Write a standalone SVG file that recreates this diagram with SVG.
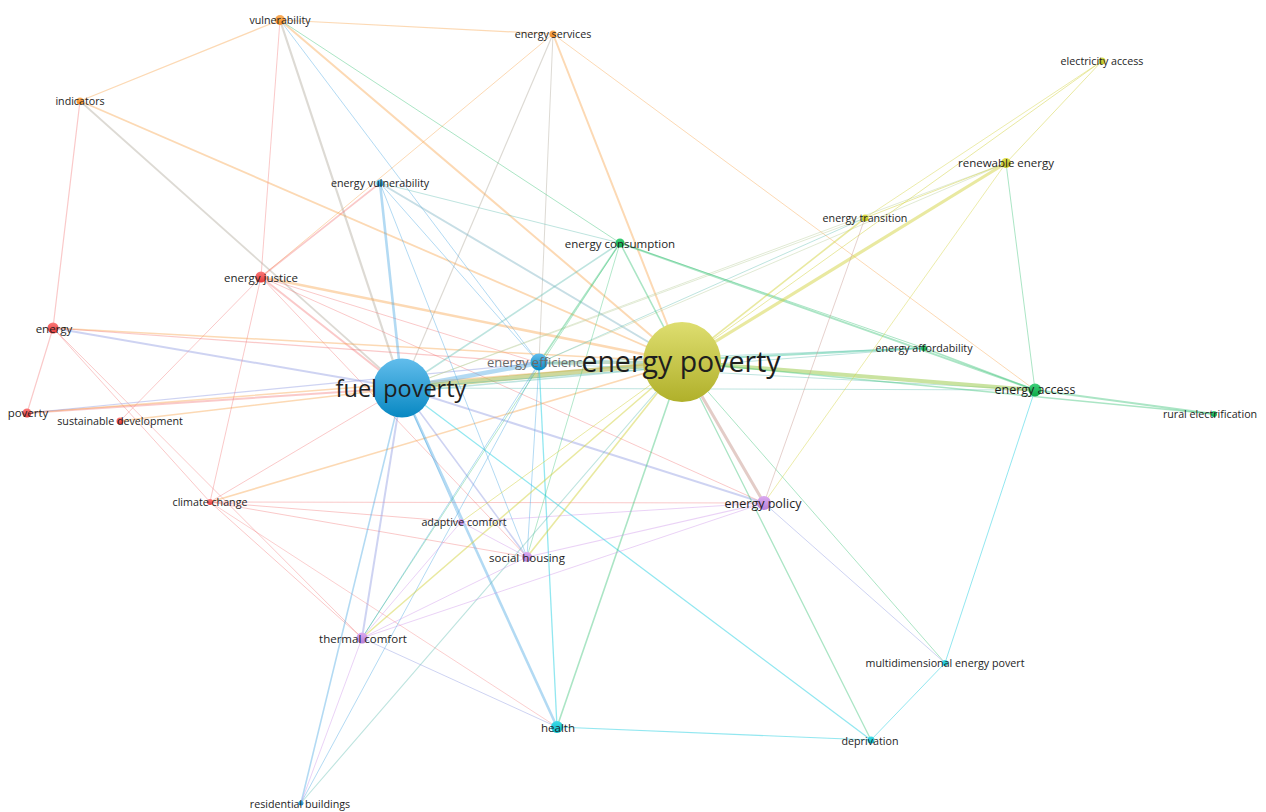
<svg xmlns="http://www.w3.org/2000/svg" width="1266" height="812" viewBox="0 0 1266 812">
<defs>
<linearGradient id="gBlue" x1="0" y1="0" x2="0" y2="1"><stop offset="0" stop-color="#62bdec"/><stop offset="1" stop-color="#0888c2"/></linearGradient>
<linearGradient id="gYel" x1="0" y1="0" x2="0" y2="1"><stop offset="0" stop-color="#dede70"/><stop offset="1" stop-color="#b0b02a"/></linearGradient>
<linearGradient id="gRed" x1="0" y1="0" x2="0" y2="1"><stop offset="0" stop-color="#fb7a7a"/><stop offset="1" stop-color="#e23838"/></linearGradient>
<linearGradient id="gOr" x1="0" y1="0" x2="0" y2="1"><stop offset="0" stop-color="#fbb060"/><stop offset="1" stop-color="#ee8a20"/></linearGradient>
<linearGradient id="gGr" x1="0" y1="0" x2="0" y2="1"><stop offset="0" stop-color="#3fd07a"/><stop offset="1" stop-color="#0aa848"/></linearGradient>
<linearGradient id="gPu" x1="0" y1="0" x2="0" y2="1"><stop offset="0" stop-color="#dcaaf0"/><stop offset="1" stop-color="#b680d8"/></linearGradient>
<linearGradient id="gCy" x1="0" y1="0" x2="0" y2="1"><stop offset="0" stop-color="#40dce8"/><stop offset="1" stop-color="#08b8c8"/></linearGradient>
<linearGradient id="gYs" x1="0" y1="0" x2="0" y2="1"><stop offset="0" stop-color="#e0e050"/><stop offset="1" stop-color="#bcbc20"/></linearGradient>
</defs>
<style>
line{fill:none;stroke-linecap:round}
.o{stroke:#f8a54c;stroke-opacity:.42}
.r{stroke:#f26a6a;stroke-opacity:.36}
.b{stroke:#4aa6e2;stroke-opacity:.42}
.g{stroke:#36c274;stroke-opacity:.42}
.y{stroke:#d2d23a;stroke-opacity:.48}
.p{stroke:#c88ae8;stroke-opacity:.38}
.c{stroke:#38d4e4;stroke-opacity:.55}
.gr{stroke:#aaa294;stroke-opacity:.4}
.t{stroke:#5cbcb0;stroke-opacity:.4}
.lt{stroke:#bcd0a0;stroke-opacity:.45}
.bp{stroke:#8a96e0;stroke-opacity:.42}
.br{stroke:#c89a90;stroke-opacity:.5}
text{font-family:"Open Sans","Noto Sans","Liberation Sans",sans-serif;fill:#1e1e1e;text-anchor:middle;dominant-baseline:central}
.s{font-size:10.7px}
.m{font-size:11.5px}
.l{font-size:12.5px}
</style>
<rect width="1266" height="812" fill="#ffffff"/>
<g id="connectors">
<line class="o" x1="280" y1="20" x2="80" y2="101" stroke-width="1.3"/>
<line class="o" x1="280" y1="20" x2="553" y2="34" stroke-width="1.2" stroke-opacity=".28"/>
<line class="o" x1="280" y1="20" x2="682" y2="362" stroke-width="2"/>
<line class="o" x1="80" y1="101" x2="682" y2="362" stroke-width="1.8"/>
<line class="o" x1="553" y1="34" x2="682" y2="362" stroke-width="2"/>
<line class="o" x1="553" y1="34" x2="261" y2="277" stroke-width="1" stroke-opacity=".32"/>
<line class="o" x1="553" y1="34" x2="1035" y2="390" stroke-width="1" stroke-opacity=".28"/>
<line class="r" x1="80" y1="101" x2="53" y2="328" stroke-width="1.2"/>
<line class="r" x1="280" y1="20" x2="261" y2="277" stroke-width="1"/>
<line class="gr" x1="280" y1="20" x2="402" y2="388" stroke-width="2.2"/>
<line class="gr" x1="80" y1="101" x2="402" y2="388" stroke-width="1.8"/>
<line class="gr" x1="553" y1="34" x2="402" y2="388" stroke-width="1.2" stroke-opacity=".32"/>
<line class="gr" x1="553" y1="34" x2="539" y2="363" stroke-width="1" stroke-opacity=".28"/>
<line class="b" x1="280" y1="20" x2="539" y2="363" stroke-width="1" stroke-opacity=".22"/>
<line class="g" x1="280" y1="20" x2="620" y2="243" stroke-width="1" stroke-opacity=".28"/>
<line class="r" x1="261" y1="277" x2="380" y2="183" stroke-width="1.6"/>
<line class="r" x1="261" y1="277" x2="402" y2="388" stroke-width="2"/>
<line class="o" x1="261" y1="277" x2="682" y2="362" stroke-width="2.5" stroke="#f49a6a"/>
<line class="r" x1="261" y1="277" x2="539" y2="363" stroke-width="1" stroke-opacity=".28"/>
<line class="r" x1="261" y1="277" x2="120" y2="421" stroke-width="1"/>
<line class="r" x1="261" y1="277" x2="527" y2="557" stroke-width="1" stroke-opacity=".28"/>
<line class="r" x1="261" y1="277" x2="764" y2="503" stroke-width="1" stroke-opacity=".24"/>
<line class="r" x1="53" y1="328" x2="27" y2="413" stroke-width="1.2"/>
<line class="bp" x1="53" y1="328" x2="402" y2="388" stroke-width="2" stroke="#a888b8" stroke-opacity=".38"/>
<line class="o" x1="53" y1="328" x2="682" y2="362" stroke-width="1.5"/>
<line class="r" x1="53" y1="328" x2="539" y2="363" stroke-width="1.2"/>
<line class="r" x1="53" y1="328" x2="210" y2="502" stroke-width="1"/>
<line class="r" x1="53" y1="328" x2="362" y2="638" stroke-width="1" stroke-opacity=".28"/>
<line class="r" x1="27" y1="413" x2="402" y2="388" stroke-width="2"/>
<line class="o" x1="27" y1="413" x2="682" y2="362" stroke-width="1.5"/>
<line class="bp" x1="27" y1="413" x2="539" y2="363" stroke-width="1.2" stroke-opacity=".28"/>
<line class="o" x1="120" y1="421" x2="402" y2="388" stroke-width="1.5" stroke="#f58a6a"/>
<line class="r" x1="210" y1="502" x2="402" y2="388" stroke-width="1" stroke-opacity=".28"/>
<line class="o" x1="210" y1="502" x2="682" y2="362" stroke-width="1.6" stroke="#f8935a"/>
<line class="r" x1="210" y1="502" x2="527" y2="557" stroke-width="1"/>
<line class="r" x1="210" y1="502" x2="461" y2="522" stroke-width="1" stroke-opacity=".28"/>
<line class="r" x1="210" y1="502" x2="764" y2="503" stroke-width="1" stroke-opacity=".28"/>
<line class="r" x1="210" y1="502" x2="557" y2="727" stroke-width="0.9" stroke-opacity=".28"/>
<line class="r" x1="210" y1="502" x2="362" y2="638" stroke-width="1" stroke-opacity=".28"/>
<line class="r" x1="210" y1="502" x2="261" y2="277" stroke-width="1" stroke-opacity=".28"/>
<line class="b" x1="402" y1="388" x2="380" y2="183" stroke-width="2.6"/>
<line class="b" x1="402" y1="388" x2="539" y2="363" stroke-width="4.5"/>
<line x1="402" y1="388" x2="682" y2="362" stroke="#a6b84c" stroke-opacity=".55" stroke-width="5"/>
<line class="t" x1="402" y1="392" x2="682" y2="366" stroke-width="1.5"/>
<line class="t" x1="402" y1="388" x2="620" y2="243" stroke-width="1.6"/>
<line class="bp" x1="402" y1="388" x2="362" y2="638" stroke-width="2"/>
<line class="b" x1="402" y1="388" x2="301" y2="803" stroke-width="1.6"/>
<line class="b" x1="402" y1="388" x2="557" y2="727" stroke-width="2.6" stroke="#3aa0e8"/>
<line class="bp" x1="402" y1="388" x2="527" y2="557" stroke-width="1.6"/>
<line class="b" x1="402" y1="388" x2="461" y2="522" stroke-width="1" stroke-opacity=".28"/>
<line class="bp" x1="402" y1="388" x2="764" y2="503" stroke-width="2"/>
<line class="c" x1="402" y1="388" x2="871" y2="740" stroke-width="1.3" stroke="#44c6ea"/>
<line class="t" x1="402" y1="388" x2="924" y2="348" stroke-width="1" stroke-opacity=".28"/>
<line class="lt" x1="402" y1="388" x2="1006" y2="163" stroke-width="1"/>
<line class="lt" x1="402" y1="388" x2="865" y2="218" stroke-width="1"/>
<line class="t" x1="402" y1="388" x2="1035" y2="390" stroke-width="1" stroke-opacity=".28"/>
<line class="b" x1="380" y1="183" x2="539" y2="363" stroke-width="1" stroke-opacity=".32"/>
<line x1="380" y1="183" x2="682" y2="362" stroke="#7ab0c0" stroke-opacity=".42" stroke-width="2"/>
<line class="t" x1="380" y1="183" x2="620" y2="243" stroke-width="1" stroke-opacity=".32"/>
<line class="b" x1="380" y1="183" x2="527" y2="557" stroke-width="1" stroke-opacity=".28"/>
<line x1="539" y1="363" x2="682" y2="362" stroke="#8cc0a0" stroke-opacity=".55" stroke-width="3"/>
<line class="g" x1="539" y1="363" x2="620" y2="243" stroke-width="1.6"/>
<line class="c" x1="539" y1="363" x2="557" y2="727" stroke-width="1.3"/>
<line class="b" x1="539" y1="363" x2="362" y2="638" stroke-width="1" stroke-opacity=".32"/>
<line class="b" x1="539" y1="363" x2="301" y2="803" stroke-width="1" stroke-opacity=".32"/>
<line class="b" x1="539" y1="363" x2="527" y2="557" stroke-width="1" stroke-opacity=".28"/>
<line class="lt" x1="539" y1="363" x2="1006" y2="163" stroke-width="1"/>
<line class="t" x1="539" y1="363" x2="865" y2="218" stroke-width="1" stroke-opacity=".32"/>
<line class="t" x1="539" y1="363" x2="924" y2="348" stroke-width="1" stroke-opacity=".32"/>
<line class="t" x1="539" y1="363" x2="1035" y2="390" stroke-width="1" stroke-opacity=".28"/>
<line class="g" x1="620" y1="243" x2="682" y2="362" stroke-width="1.6"/>
<line class="g" x1="620" y1="243" x2="1035" y2="390" stroke-width="2"/>
<line class="g" x1="620" y1="243" x2="924" y2="348" stroke-width="1" stroke-opacity=".38"/>
<line class="g" x1="620" y1="243" x2="362" y2="638" stroke-width="0.9" stroke-opacity=".28"/>
<line class="g" x1="620" y1="243" x2="527" y2="557" stroke-width="0.9" stroke-opacity=".28"/>
<line class="y" x1="682" y1="362" x2="1006" y2="163" stroke-width="3.2"/>
<line class="y" x1="682" y1="362" x2="865" y2="218" stroke-width="1.6" stroke-opacity=".4"/>
<line class="y" x1="682" y1="362" x2="1102" y2="61" stroke-width="1" stroke-opacity=".35"/>
<line x1="682" y1="362" x2="1035" y2="390" stroke="#a6d060" stroke-opacity=".6" stroke-width="4"/>
<line x1="682" y1="360" x2="924" y2="348" stroke="#4cc8a0" stroke-opacity=".5" stroke-width="2"/>
<line class="g" x1="682" y1="362" x2="1214" y2="414" stroke-width="1.5" stroke-opacity=".35"/>
<line class="br" x1="682" y1="362" x2="764" y2="503" stroke-width="3"/>
<line class="g" x1="682" y1="362" x2="557" y2="727" stroke-width="1.6" stroke="#8cd070"/>
<line class="g" x1="682" y1="362" x2="871" y2="740" stroke-width="1.3" stroke="#80d890"/>
<line class="g" x1="682" y1="362" x2="945" y2="663" stroke-width="1" stroke-opacity=".38"/>
<line class="y" x1="682" y1="362" x2="362" y2="638" stroke-width="1.5" stroke-opacity=".4"/>
<line class="y" x1="682" y1="362" x2="527" y2="557" stroke-width="1.6" stroke="#c8b460" stroke-opacity=".42"/>
<line class="y" x1="682" y1="362" x2="461" y2="522" stroke-width="1" stroke-opacity=".32"/>
<line class="t" x1="682" y1="362" x2="301" y2="803" stroke-width="1.1" stroke="#80c0a8"/>
<line class="y" x1="1006" y1="163" x2="1102" y2="61" stroke-width="1" stroke-opacity=".35"/>
<line class="y" x1="1006" y1="163" x2="865" y2="218" stroke-width="1" stroke-opacity=".35"/>
<line class="g" x1="1006" y1="163" x2="1035" y2="390" stroke-width="1" stroke="#90d070"/>
<line class="y" x1="1006" y1="163" x2="764" y2="503" stroke-width="0.9" stroke-opacity=".3"/>
<line class="y" x1="865" y1="218" x2="1102" y2="61" stroke-width="0.9" stroke-opacity=".3"/>
<line class="br" x1="865" y1="218" x2="764" y2="503" stroke-width="0.9" stroke-opacity=".3"/>
<line class="g" x1="1035" y1="390" x2="1214" y2="414" stroke-width="2"/>
<line class="c" x1="1035" y1="390" x2="945" y2="663" stroke-width="1" stroke="#50d8b8" stroke-opacity=".45"/>
<line class="g" x1="1035" y1="390" x2="924" y2="348" stroke-width="1.6"/>
<line class="p" x1="764" y1="503" x2="461" y2="522" stroke-width="1"/>
<line class="p" x1="764" y1="503" x2="527" y2="557" stroke-width="1.2"/>
<line class="p" x1="764" y1="503" x2="362" y2="638" stroke-width="1"/>
<line class="bp" x1="764" y1="503" x2="945" y2="663" stroke-width="1" stroke-opacity=".3"/>
<line class="p" x1="461" y1="522" x2="362" y2="638" stroke-width="1"/>
<line class="p" x1="461" y1="522" x2="527" y2="557" stroke-width="1"/>
<line class="p" x1="527" y1="557" x2="362" y2="638" stroke-width="1"/>
<line class="bp" x1="362" y1="638" x2="557" y2="727" stroke-width="1" stroke-opacity=".28"/>
<line class="p" x1="362" y1="638" x2="301" y2="803" stroke-width="1"/>
<line class="c" x1="557" y1="727" x2="871" y2="740" stroke-width="1.2" stroke-opacity=".35"/>
<line class="c" x1="871" y1="740" x2="945" y2="663" stroke-width="1" stroke-opacity=".4"/>
</g>
<g id="n-vulnerability"><circle cx="280" cy="20" r="5" fill="url(#gOr)"/><text class="s" x="280" y="20">vulnerability</text></g>
<g id="n-energy-services"><circle cx="553" cy="34" r="3.5" fill="url(#gOr)"/><text class="s" x="553" y="34">energy services</text></g>
<g id="n-indicators"><circle cx="80" cy="101" r="3.5" fill="url(#gOr)"/><text class="s" x="80" y="101">indicators</text></g>
<g id="n-energy-vulnerability"><circle cx="380" cy="183" r="3.5" fill="url(#gBlue)"/><text class="s" x="380" y="183">energy vulnerability</text></g>
<g id="n-energy-justice"><circle cx="261" cy="277" r="5.5" fill="url(#gRed)"/><text class="m" x="261" y="277">energy justice</text></g>
<g id="n-energy-consumption"><circle cx="620" cy="243" r="4.5" fill="url(#gGr)"/><text class="m" x="620" y="243">energy consumption</text></g>
<g id="n-energy"><circle cx="53" cy="328" r="5.5" fill="url(#gRed)"/><text class="m" x="54" y="328">energy</text></g>
<g id="n-poverty"><circle cx="27" cy="413" r="4.5" fill="url(#gRed)"/><text class="m" x="28" y="412">poverty</text></g>
<g id="n-sustainable-development"><circle cx="120" cy="421" r="3.5" fill="url(#gRed)"/><text class="s" x="120" y="421">sustainable development</text></g>
<g id="n-climate-change"><circle cx="210" cy="502" r="3" fill="url(#gRed)"/><text class="s" x="210" y="502">climate change</text></g>
<g id="n-energy-efficiency"><circle cx="539" cy="362" r="8.5" fill="url(#gBlue)"/><text x="487" y="362" style="font-size:13px;fill:#6a6a6a;text-anchor:start">energy efficienc</text></g>
<g id="n-fuel-poverty"><ellipse cx="402" cy="388" rx="29" ry="29.5" fill="url(#gBlue)"/><text x="401" y="388" style="font-size:23.5px">fuel poverty</text></g>
<g id="n-energy-poverty"><ellipse cx="682" cy="362" rx="39" ry="40" fill="url(#gYel)"/><text x="681" y="361" style="font-size:28.5px">energy poverty</text></g>
<g id="n-energy-transition"><circle cx="865" cy="218" r="3.5" fill="url(#gYs)"/><text class="s" x="865" y="218">energy transition</text></g>
<g id="n-renewable-energy"><circle cx="1006" cy="163" r="5" fill="url(#gYs)"/><text class="m" x="1006" y="162">renewable energy</text></g>
<g id="n-electricity-access"><circle cx="1102" cy="61" r="3.5" fill="url(#gYs)"/><text class="s" x="1102" y="61">electricity access</text></g>
<g id="n-energy-affordability"><circle cx="924" cy="348" r="3" fill="url(#gGr)"/><text class="s" x="924" y="348">energy affordability</text></g>
<g id="n-energy-access"><circle cx="1035" cy="390" r="6.5" fill="url(#gGr)"/><text class="l" x="1035" y="389">energy access</text></g>
<g id="n-rural-electrification"><circle cx="1214" cy="414" r="3" fill="url(#gGr)"/><text class="s" x="1210" y="414">rural electrification</text></g>
<g id="n-energy-policy"><circle cx="764" cy="503" r="7" fill="url(#gPu)"/><text class="l" x="763" y="503">energy policy</text></g>
<g id="n-adaptive-comfort"><circle cx="461" cy="522" r="3" fill="url(#gPu)"/><text class="s" x="464" y="522">adaptive comfort</text></g>
<g id="n-social-housing"><circle cx="527" cy="557" r="5" fill="url(#gPu)"/><text class="m" x="527" y="557">social housing</text></g>
<g id="n-thermal-comfort"><circle cx="362" cy="638" r="5.5" fill="url(#gPu)"/><text class="m" x="363" y="638">thermal comfort</text></g>
<g id="n-health"><circle cx="557" cy="727" r="6" fill="url(#gCy)"/><text class="m" x="558" y="727">health</text></g>
<g id="n-multidimensional-energy-povert"><circle cx="945" cy="663" r="3" fill="url(#gCy)"/><text class="s" x="945" y="663">multidimensional energy povert</text></g>
<g id="n-deprivation"><circle cx="871" cy="740" r="3.5" fill="url(#gCy)"/><text class="s" x="870" y="741">deprivation</text></g>
<g id="n-residential-buildings"><circle cx="301" cy="803" r="2.5" fill="url(#gBlue)"/><text class="s" x="300" y="804">residential buildings</text></g>
</svg>
